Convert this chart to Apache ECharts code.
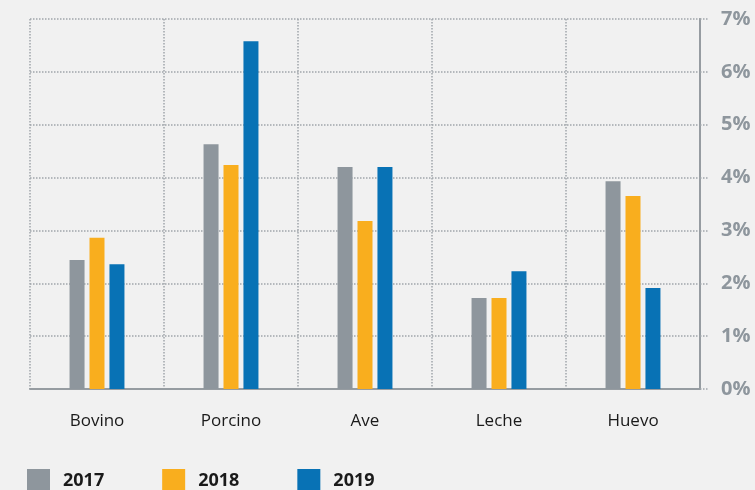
<!DOCTYPE html>
<html>
<head>
<meta charset="utf-8">
<script src="https://cdn.jsdelivr.net/npm/echarts@6/dist/echarts.min.js"></script>
<style>
  html, body { margin: 0; padding: 0; background: #f1f1f1; }
  #chart { width: 755px; height: 490px; }
</style>
</head>
<body>
<div id="chart"></div>
<script>
  // categorias y valores (%)
  var categories = ['Bovino', 'Porcino', 'Ave', 'Leche', 'Huevo'];
  var years = ['2017', '2018', '2019'];
  var data2017 = [2.44, 4.63, 4.20, 1.72, 3.93];
  var data2018 = [2.86, 4.24, 3.18, 1.72, 3.65];
  var data2019 = [2.36, 6.58, 4.20, 2.23, 1.91];
  var colors = ['#8e969d', '#f9ae1e', '#0872b5'];

  var gridLine = { color: '#a0a5aa', type: 'dotted', width: 1.5 };

  var chart = echarts.init(document.getElementById('chart'));
  chart.setOption({
    backgroundColor: '#f1f1f1',
    animation: false,
    color: colors,
    grid: { left: 30, right: 55, top: 19, bottom: 101 },
    legend: {
      left: 27,
      top: 469,
      padding: 0,
      itemWidth: 23,
      itemHeight: 23,
      itemGap: 58,
      icon: 'rect',
      textStyle: {
        fontFamily: 'Open Sans',
        fontWeight: 'bold',
        fontSize: 18,
        color: '#1a1a1a',
        padding: [0, 0, 0, 8]
      },
      data: years
    },
    xAxis: {
      type: 'category',
      data: categories,
      axisLine: { lineStyle: { color: '#969ca1', width: 2 } },
      axisTick: { length: 10, lineStyle: { color: '#969ca1', width: 2 } },
      axisLabel: { margin: 24, fontFamily: 'Open Sans', fontSize: 17, color: '#1a1a1a' },
      splitLine: { show: true, lineStyle: gridLine }
    },
    yAxis: {
      type: 'value',
      position: 'right',
      min: 0,
      max: 7,
      interval: 1,
      axisLine: { show: true, lineStyle: { color: '#969ca1', width: 2 } },
      axisTick: { show: true, length: 9, lineStyle: gridLine },
      axisLabel: {
        margin: 21,
        formatter: '{value}%',
        fontFamily: 'Open Sans',
        fontWeight: 'bold',
        fontSize: 20,
        color: '#8e969d'
      },
      splitLine: { show: true, lineStyle: gridLine }
    },
    series: [
      { name: years[0], type: 'bar', data: data2017, barWidth: 15, barGap: '33%', barCategoryGap: '59%' },
      { name: years[1], type: 'bar', data: data2018, barWidth: 15, barGap: '33%', barCategoryGap: '59%' },
      { name: years[2], type: 'bar', data: data2019, barWidth: 15, barGap: '33%', barCategoryGap: '59%' }
    ]
  });
</script>
</body>
</html>
